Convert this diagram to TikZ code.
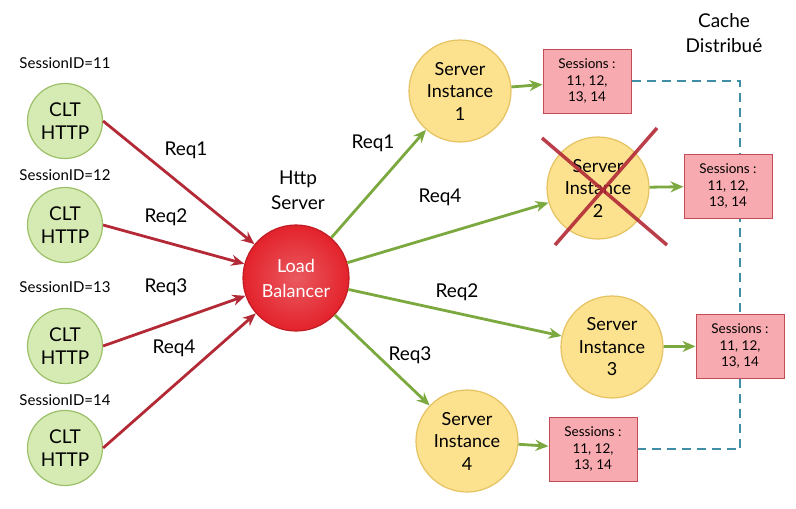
\documentclass[tikz,border=0pt]{standalone}
\usepackage{fontspec}
\setmainfont{Lato}
\usepackage{xcolor}
\usepackage{tikz}
\usetikzlibrary{calc,arrows.meta,backgrounds}
\definecolor{cltfill}{HTML}{D6EBB3}
\definecolor{cltdraw}{HTML}{9CC06A}
\definecolor{srvfill}{HTML}{FCE18E}
\definecolor{srvdraw}{HTML}{E5C262}
\definecolor{lbred}{HTML}{E3222B}
\definecolor{redx}{HTML}{B32A36}
\definecolor{greenx}{HTML}{7CA93F}
\definecolor{boxfill}{HTML}{F7AAAF}
\definecolor{boxdraw}{HTML}{C44B56}
\definecolor{cachex}{HTML}{3F8EA5}
\tikzset{
  redar/.style={-{Stealth[length=13pt,width=11pt]},line width=2.8pt,redx},
  greenar/.style={-{Stealth[length=13pt,width=11pt]},line width=2.8pt,greenx},
  clt/.style={circle,draw=cltdraw,line width=1.2pt,fill=cltfill,minimum size=75pt,inner sep=0pt,align=center,font=\fontsize{19}{23}\selectfont},
  srv/.style={circle,draw=srvdraw,line width=1.2pt,fill=srvfill,minimum size=102pt,inner sep=0pt,align=center,font=\fontsize{18}{22.5}\selectfont},
  sbox/.style={draw=boxdraw,line width=1pt,fill=boxfill,minimum width=88pt,minimum height=64pt,inner sep=2pt,align=center,font=\fontsize{13.5}{16.5}\selectfont},
  sid/.style={font=\fontsize{15}{17}\selectfont},
  req/.style={font=\fontsize{19}{21}\selectfont},
  cache/.style={cachex,line width=2.4pt,dash pattern=on 9pt off 6pt}
}
\begin{document}
\begin{tikzpicture}[x=1pt,y=-1pt]
\useasboundingbox (0,0) rectangle (796,509);
% clients
\foreach \i/\yy/\ly in {1/121/63,2/225/175,3/346/287,4/448/400}{
  \node[clt] (c\i) at (65,\yy) {CLT\\HTTP};
  \node[sid] (sid\i) at (65,\ly) {SessionID=1\i};
}
% load balancer
\node[circle,draw=lbred!85!black,line width=1.2pt,inner color=lbred!75!white,outer color=lbred,minimum size=106pt,inner sep=0pt,align=center,text=white,font=\fontsize{18}{25}\selectfont] (lb) at (296,278) {Load\\Balancer};
\node[align=center,font=\fontsize{19}{25}\selectfont] (http) at (298,190) {Http\\Server};
% servers and session boxes
\node[srv] (s1) at (460,91) {Server\\Instance\\1};
\node[srv] (s2) at (598,188) {Server\\Instance\\2};
\node[srv] (s3) at (612,347) {Server\\Instance\\3};
\node[srv] (s4) at (467,441) {Server\\Instance\\4};
\node[sbox] (b1) at (587,81) {Sessions :\\11, 12,\\13, 14};
\node[sbox] (b2) at (728,186) {Sessions :\\11, 12,\\13, 14};
\node[sbox] (b3) at (740,346) {Sessions :\\11, 12,\\13, 14};
\node[sbox] (b4) at (593,449) {Sessions :\\11, 12,\\13, 14};
\node[align=center,font=\fontsize{19}{25}\selectfont] (cc) at (724,33) {Cache\\Distribué};
\begin{scope}[on background layer]
\draw[cache] (b1.east) -| (b3.north);
\draw[cache] (b3.south) |- (b4.east);
\end{scope}
% requests
\foreach \i in {1,...,4}{\draw[redar] (c\i.east) -- (lb);}
\node[req] (r1) at (186,150) {Req1};
\node[req] (r2) at (166,217) {Req2};
\node[req] (r3) at (166,287) {Req3};
\node[req] (r4) at (174,348) {Req4};
\foreach \i in {1,...,4}{\draw[greenar] (lb) -- (s\i);}
\node[req] (g1) at (373,143) {Req1};
\node[req] (g4) at (440,197) {Req4};
\node[req] (g2) at (457,292) {Req2};
\node[req] (g3) at (410,355) {Req3};
\foreach \i in {1,...,4}{\draw[greenar] (s\i) -- (b\i);}
% crossed out instance
\draw[redx,line width=3.5pt,opacity=.9] ($(s2)+(-56,-50)$) -- ($(s2)+(69,57)$);
\draw[redx,line width=3.5pt,opacity=.9] ($(s2)+(59,-60)$) -- ($(s2)+(-43,57)$);
\end{tikzpicture}
\end{document}
